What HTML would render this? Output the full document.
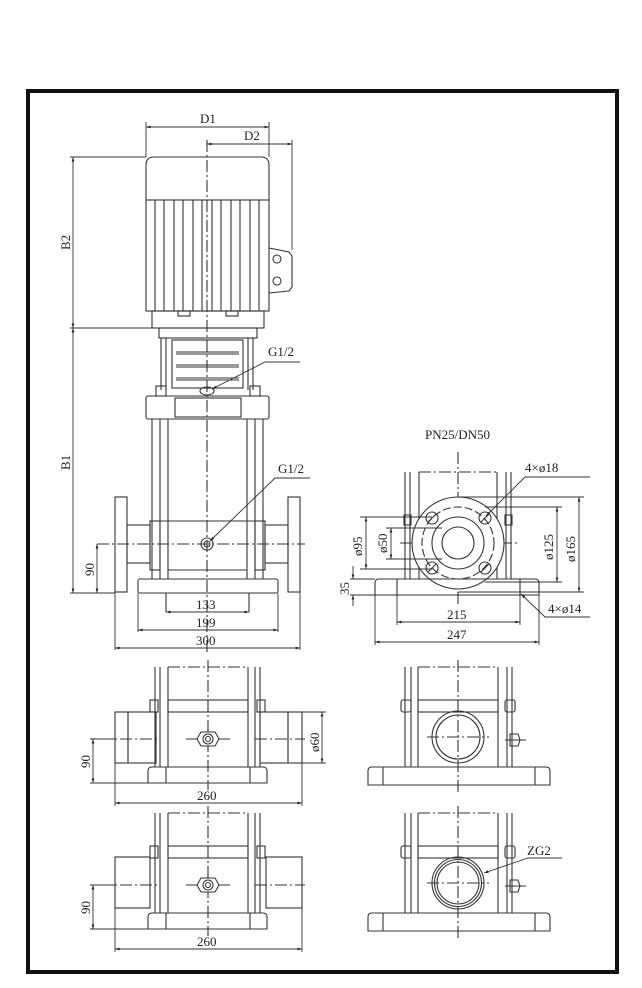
<!DOCTYPE html>
<html><head><meta charset="utf-8"><style>
html,body{margin:0;padding:0;background:#fff;}
svg{display:block;}
text{font-family:"Liberation Serif",serif;font-size:13px;fill:#222;}
</style></head><body>
<svg width="642" height="988" viewBox="0 0 642 988" xmlns="http://www.w3.org/2000/svg">
<defs>
<marker id="a" viewBox="0 0 10 10" refX="10" refY="5" markerWidth="7" markerHeight="5" orient="auto-start-reverse"><path d="M0,2 L10,5 L0,8 z" fill="#222"/></marker>
</defs>
<rect x="28" y="91" width="589" height="881" fill="none" stroke="#111" stroke-width="4"/>
<g fill="none" stroke="#333" stroke-width="1.1">
<line x1="207" y1="140" x2="207" y2="655" stroke-dasharray="12,3,2,3"/>
<path d="M146,200 L146,165 Q146,157 154,157 L261,157 Q269,157 269,165 L269,200 Z"/>
<rect x="146" y="200" width="123" height="111"/>
<g>
<line x1="155" y1="200" x2="155" y2="311"/><line x1="164" y1="200" x2="164" y2="311"/>
<line x1="174" y1="200" x2="174" y2="311"/><line x1="183" y1="200" x2="183" y2="311"/>
<line x1="193" y1="200" x2="193" y2="311"/><line x1="202" y1="200" x2="202" y2="311"/>
<line x1="212" y1="200" x2="212" y2="311"/><line x1="221" y1="200" x2="221" y2="311"/>
<line x1="231" y1="200" x2="231" y2="311"/><line x1="240" y1="200" x2="240" y2="311"/>
<line x1="250" y1="200" x2="250" y2="311"/><line x1="259" y1="200" x2="259" y2="311"/>
</g>
<rect x="152" y="311" width="112" height="17"/>
<rect x="178" y="311" width="12" height="5"/><rect x="226" y="311" width="12" height="5"/>
<path d="M269,248 L289,252 L292,256 L292,287 L289,291 L269,293"/>
<circle cx="277" cy="259" r="4"/><circle cx="277" cy="281" r="4"/>
<rect x="159" y="328" width="98" height="10"/>
<line x1="161" y1="338" x2="161" y2="390"/><line x1="166" y1="338" x2="166" y2="390"/>
<line x1="248" y1="338" x2="248" y2="390"/><line x1="253" y1="338" x2="253" y2="390"/>
<rect x="172" y="340" width="71" height="48"/>
<line x1="176" y1="352" x2="239" y2="352"/><line x1="176" y1="354" x2="239" y2="354"/>
<line x1="176" y1="365" x2="239" y2="365"/><line x1="176" y1="367" x2="239" y2="367"/>
<line x1="176" y1="378" x2="239" y2="378"/><line x1="176" y1="380" x2="239" y2="380"/>
<rect x="156" y="386" width="10" height="10"/><rect x="250" y="386" width="10" height="10"/>
<ellipse cx="207" cy="391" rx="7" ry="4"/>
<rect x="146" y="396" width="123" height="23" rx="2"/>
<rect x="175" y="398" width="66" height="19"/>
<line x1="152" y1="419" x2="152" y2="579"/><line x1="160" y1="419" x2="160" y2="579"/><line x1="168" y1="419" x2="168" y2="579"/>
<line x1="247" y1="419" x2="247" y2="579"/><line x1="255" y1="419" x2="255" y2="579"/><line x1="263" y1="419" x2="263" y2="579"/>
<rect x="150" y="521" width="10" height="49"/><rect x="255" y="521" width="10" height="49"/>
<line x1="160" y1="521" x2="255" y2="521"/><line x1="168" y1="570" x2="247" y2="570"/>
<rect x="127" y="525" width="23" height="38"/><rect x="265" y="525" width="23" height="38"/>
<rect x="115" y="497" width="12" height="95"/><rect x="288" y="497" width="12" height="95"/>
<circle cx="207" cy="544" r="6"/><circle cx="207" cy="544" r="3"/>
<line x1="97" y1="544" x2="305" y2="544" stroke-dasharray="12,3,2,3"/>
<rect x="138" y="579" width="140" height="14" rx="2"/>
<line x1="166" y1="593" x2="166" y2="612"/><line x1="249" y1="593" x2="249" y2="612"/>
</g>
<g fill="none" stroke="#333" stroke-width="0.9">
<line x1="146" y1="122" x2="146" y2="157"/><line x1="269" y1="122" x2="269" y2="157"/>
<line x1="146" y1="127" x2="269" y2="127" marker-start="url(#a)" marker-end="url(#a)"/>
<line x1="292" y1="140" x2="292" y2="250"/>
<line x1="207" y1="144" x2="292" y2="144" marker-start="url(#a)" marker-end="url(#a)"/>
<line x1="70" y1="157" x2="146" y2="157"/><line x1="70" y1="328" x2="152" y2="328"/>
<line x1="73" y1="157" x2="73" y2="328" marker-start="url(#a)" marker-end="url(#a)"/>
<line x1="73" y1="328" x2="73" y2="593" marker-start="url(#a)" marker-end="url(#a)"/>
<line x1="70" y1="593" x2="115" y2="593"/>
<line x1="97" y1="544" x2="97" y2="593" marker-start="url(#a)" marker-end="url(#a)"/>
<line x1="138" y1="593" x2="138" y2="632"/><line x1="278" y1="593" x2="278" y2="632"/>
<line x1="115" y1="592" x2="115" y2="650"/><line x1="300" y1="592" x2="300" y2="650"/>
<line x1="166" y1="612" x2="249" y2="612" marker-start="url(#a)" marker-end="url(#a)"/>
<line x1="138" y1="630" x2="278" y2="630" marker-start="url(#a)" marker-end="url(#a)"/>
<line x1="115" y1="648" x2="300" y2="648" marker-start="url(#a)" marker-end="url(#a)"/>
<polyline points="300,362 265,362 212,389" marker-end="url(#a)"/>
<polyline points="310,478 275,478 210,541" marker-end="url(#a)"/>
</g>
<text x="200" y="123">D1</text>
<text x="244" y="140">D2</text>
<text x="0" y="0" transform="translate(70,250) rotate(-90)">B2</text>
<text x="0" y="0" transform="translate(70,470) rotate(-90)">B1</text>
<text x="0" y="0" transform="translate(94,576) rotate(-90)">90</text>
<text x="268" y="356">G1/2</text>
<text x="278" y="473">G1/2</text>
<text x="196" y="609">133</text>
<text x="196" y="627">199</text>
<text x="196" y="645">300</text>

<g fill="none" stroke="#333" stroke-width="1.1">
<line x1="458" y1="452" x2="458" y2="605" stroke-dasharray="12,3,2,3"/>
<line x1="400" y1="543" x2="520" y2="543" stroke-dasharray="12,3,2,3"/>
<line x1="405" y1="472" x2="405" y2="579"/><line x1="410" y1="472" x2="410" y2="579"/>
<line x1="506" y1="472" x2="506" y2="579"/><line x1="511" y1="472" x2="511" y2="579"/>
<line x1="419" y1="472" x2="419" y2="579"/><line x1="497" y1="472" x2="497" y2="579"/>
<line x1="419" y1="472" x2="497" y2="472" stroke-dasharray="12,3,2,3"/>
<rect x="404" y="515" width="7" height="10"/><rect x="505" y="515" width="7" height="10"/>
<circle cx="458" cy="543" r="46" fill="#fff"/>
<circle cx="458" cy="543" r="36" stroke-dasharray="8,3"/>
<circle cx="458" cy="543" r="26"/>
<circle cx="458" cy="543" r="16"/>
<g><circle cx="432" cy="518" r="6"/><line x1="428" y1="522" x2="436" y2="514"/>
<circle cx="485" cy="518" r="6"/><line x1="481" y1="522" x2="489" y2="514"/>
<circle cx="432" cy="568" r="6"/><line x1="428" y1="572" x2="436" y2="564"/>
<circle cx="485" cy="568" r="6"/><line x1="481" y1="572" x2="489" y2="564"/></g>
<path d="M375,595 L375,583 Q375,579 379,579 L535,579 Q539,579 539,583 L539,595 Z"/>
<path d="M397,595 L397,579 M520,595 L520,579"/>
</g>
<g fill="none" stroke="#333" stroke-width="0.9">
<line x1="360" y1="517" x2="432" y2="517"/><line x1="360" y1="569" x2="432" y2="569"/>
<line x1="366" y1="517" x2="366" y2="569" marker-start="url(#a)" marker-end="url(#a)"/>
<line x1="386" y1="528" x2="442" y2="528"/><line x1="386" y1="559" x2="442" y2="559"/>
<line x1="391" y1="528" x2="391" y2="559" marker-start="url(#a)" marker-end="url(#a)"/>
<line x1="485" y1="507" x2="562" y2="507"/><line x1="485" y1="582" x2="562" y2="582"/>
<line x1="557" y1="507" x2="557" y2="582" marker-start="url(#a)" marker-end="url(#a)"/>
<line x1="458" y1="497" x2="584" y2="497"/><line x1="458" y1="592" x2="584" y2="592"/>
<line x1="579" y1="497" x2="579" y2="592" marker-start="url(#a)" marker-end="url(#a)"/>
<line x1="350" y1="579" x2="375" y2="579"/><line x1="350" y1="595" x2="375" y2="595"/>
<line x1="353" y1="566" x2="353" y2="579" marker-end="url(#a)"/>
<line x1="353" y1="606" x2="353" y2="595" marker-end="url(#a)"/>
<line x1="397" y1="595" x2="397" y2="625"/><line x1="520" y1="595" x2="520" y2="625"/>
<line x1="375" y1="595" x2="375" y2="645"/><line x1="539" y1="595" x2="539" y2="645"/>
<line x1="397" y1="622" x2="520" y2="622" marker-start="url(#a)" marker-end="url(#a)"/>
<line x1="375" y1="642" x2="539" y2="642" marker-start="url(#a)" marker-end="url(#a)"/>
<polyline points="590,477 525,477 486,516" marker-end="url(#a)"/>
<polyline points="590,617 545,617 521,594" marker-end="url(#a)"/>
</g>
<text x="425" y="439">PN25/DN50</text>
<text x="525" y="472">4×ø18</text>
<text x="548" y="613">4×ø14</text>
<text x="0" y="0" transform="translate(362,556) rotate(-90)">ø95</text>
<text x="0" y="0" transform="translate(387,553) rotate(-90)">ø50</text>
<text x="0" y="0" transform="translate(553,560) rotate(-90)">ø125</text>
<text x="0" y="0" transform="translate(575,562) rotate(-90)">ø165</text>
<text x="0" y="0" transform="translate(349,595) rotate(-90)">35</text>
<text x="447" y="619">215</text>
<text x="447" y="639">247</text>

<g fill="none" stroke="#333" stroke-width="1.1">
<g id="lv">
<line x1="208" y1="660" x2="208" y2="790" stroke-dasharray="12,3,2,3"/>
<line x1="168" y1="667" x2="248" y2="667" stroke-dasharray="12,3,2,3"/>
<line x1="155" y1="667" x2="155" y2="767"/><line x1="160" y1="667" x2="160" y2="767"/>
<line x1="168" y1="667" x2="168" y2="767"/><line x1="248" y1="667" x2="248" y2="767"/>
<line x1="255" y1="667" x2="255" y2="767"/><line x1="260" y1="667" x2="260" y2="767"/>
<rect x="150" y="700" width="8" height="12"/><rect x="257" y="700" width="8" height="12"/>
<rect x="168" y="700" width="80" height="12"/>
<line x1="168" y1="767" x2="248" y2="767"/>
<path d="M148,783 L148,771 Q148,767 152,767 L263,767 Q267,767 267,771 L267,783 Z"/>
<line x1="166" y1="767" x2="166" y2="783"/><line x1="250" y1="767" x2="250" y2="783"/>
<line x1="186" y1="739" x2="230" y2="739"/>
<polygon points="201,732 215,732 219,739 215,746 201,746 197,739" fill="#fff"/>
<circle cx="208" cy="739" r="5"/><circle cx="208" cy="739" r="2.5"/>
</g>
<rect x="115" y="712" width="13" height="51"/><rect x="128" y="712" width="28" height="51"/>
<rect x="260" y="712" width="28" height="51"/><rect x="288" y="712" width="14" height="51"/>
<line x1="100" y1="739" x2="160" y2="739" stroke-dasharray="12,3,2,3"/>
<line x1="255" y1="739" x2="305" y2="739" stroke-dasharray="12,3,2,3"/>
<use href="#lv" transform="translate(0,146)"/>
<rect x="115" y="857" width="35" height="51"/><rect x="266" y="857" width="36" height="51"/>
<line x1="100" y1="885" x2="160" y2="885" stroke-dasharray="12,3,2,3"/>
<line x1="255" y1="885" x2="305" y2="885" stroke-dasharray="12,3,2,3"/>
</g>
<g fill="none" stroke="#333" stroke-width="0.9">
<line x1="90" y1="739" x2="115" y2="739"/><line x1="90" y1="783" x2="148" y2="783"/>
<line x1="93" y1="739" x2="93" y2="783" marker-start="url(#a)" marker-end="url(#a)"/>
<line x1="302" y1="712" x2="326" y2="712"/><line x1="302" y1="763" x2="326" y2="763"/>
<line x1="322" y1="712" x2="322" y2="763" marker-start="url(#a)" marker-end="url(#a)"/>
<line x1="115" y1="763" x2="115" y2="806"/><line x1="302" y1="763" x2="302" y2="806"/>
<line x1="115" y1="803" x2="302" y2="803" marker-start="url(#a)" marker-end="url(#a)"/>
<line x1="90" y1="885" x2="115" y2="885"/><line x1="90" y1="929" x2="148" y2="929"/>
<line x1="93" y1="885" x2="93" y2="929" marker-start="url(#a)" marker-end="url(#a)"/>
<line x1="115" y1="908" x2="115" y2="952"/><line x1="302" y1="908" x2="302" y2="952"/>
<line x1="115" y1="949" x2="302" y2="949" marker-start="url(#a)" marker-end="url(#a)"/>
</g>
<text x="0" y="0" transform="translate(90,768) rotate(-90)">90</text>
<text x="0" y="0" transform="translate(319,752) rotate(-90)">ø60</text>
<text x="197" y="800">260</text>
<text x="0" y="0" transform="translate(90,914) rotate(-90)">90</text>
<text x="197" y="946">260</text>

<g fill="none" stroke="#333" stroke-width="1.1">
<g id="rv">
<line x1="458" y1="660" x2="458" y2="792" stroke-dasharray="12,3,2,3"/>
<line x1="418" y1="667" x2="498" y2="667" stroke-dasharray="12,3,2,3"/>
<line x1="405" y1="667" x2="405" y2="767"/><line x1="411" y1="667" x2="411" y2="767"/>
<line x1="418" y1="667" x2="418" y2="767"/><line x1="498" y1="667" x2="498" y2="767"/>
<line x1="507" y1="667" x2="507" y2="767"/><line x1="512" y1="667" x2="512" y2="767"/>
<rect x="401" y="700" width="10" height="12" rx="2"/><rect x="505" y="700" width="10" height="12" rx="2"/>
<rect x="418" y="700" width="80" height="12"/>
<line x1="405" y1="767" x2="512" y2="767"/>
<path d="M368,785 L368,771 Q368,767 372,767 L546,767 Q550,767 550,771 L550,785 Z"/>
<line x1="383" y1="767" x2="383" y2="785"/><line x1="535" y1="767" x2="535" y2="785"/>
<line x1="427" y1="737" x2="489" y2="737" stroke-dasharray="12,3,2,3"/>
<path d="M510,734 L518,734 L520,740 L518,746 L510,746 Z"/><line x1="505" y1="740" x2="526" y2="740"/>
</g>
<circle cx="458" cy="737" r="26"/><circle cx="458" cy="737" r="22"/>
<use href="#rv" transform="translate(0,146)"/>
<circle cx="458" cy="883" r="26"/><circle cx="458" cy="883" r="23.5"/><circle cx="458" cy="883" r="21"/>
</g>
<g fill="none" stroke="#333" stroke-width="0.9">
<polyline points="562,858 528,858 484,873" marker-end="url(#a)"/>
</g>
<text x="527" y="855">ZG2</text>
</svg>
</body></html>
